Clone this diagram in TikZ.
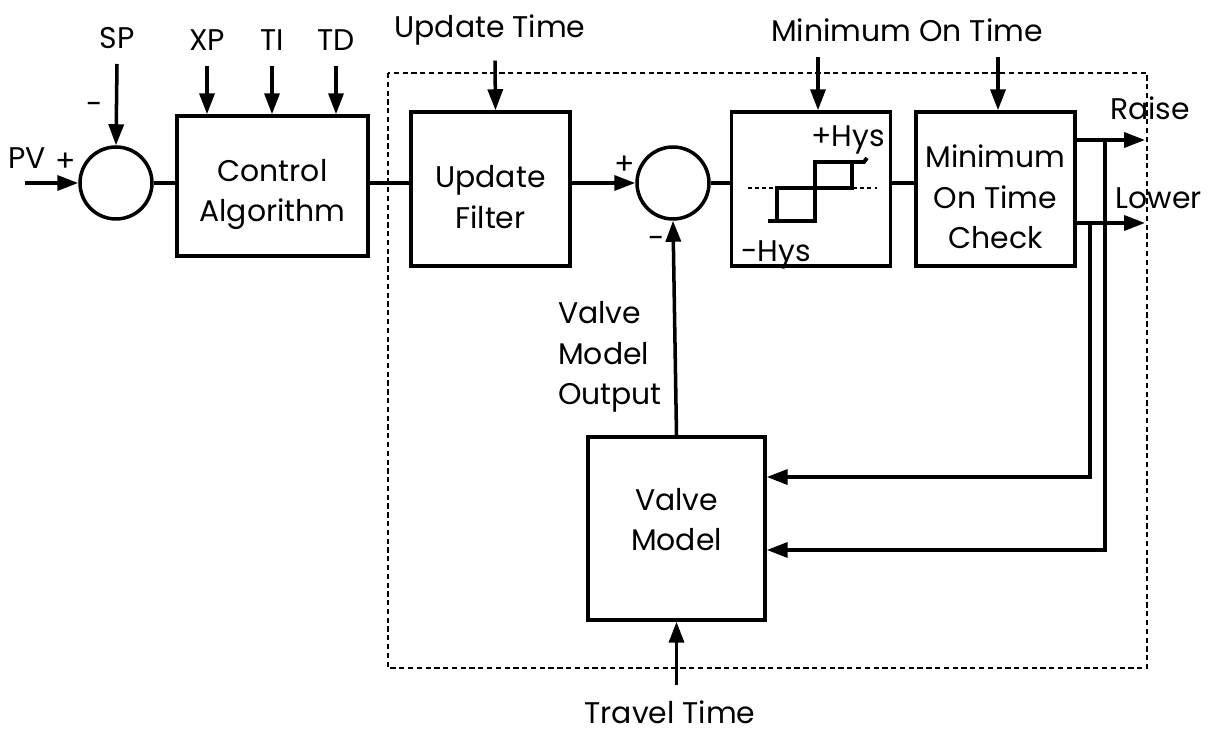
\documentclass[tikz,border=0pt]{standalone}
\usepackage{fontspec}
\setmainfont{Poppins}
\usetikzlibrary{arrows.meta}
\newcommand\topgap{\rule{0pt}{22pt}}
\tikzset{
  block/.style={draw, line width=2pt, minimum width=3.18cm, minimum height=3.08cm, align=center, inner sep=0pt},
  hightext/.style={execute at end node={\rule[-10pt]{0pt}{0pt}}},
  sumnode/.style={draw, circle, line width=2pt, minimum size=1.44cm, inner sep=0pt},
  lbl/.style={inner sep=0pt},
  sig/.style={line width=2pt, -{Triangle[length=0.42cm,width=0.3cm]}},
  wire/.style={line width=2pt}
}
\begin{document}
\begin{tikzpicture}[x=0.02cm, y=-0.02cm, every node/.append style={font=\fontsize{17}{23}\selectfont}]
\useasboundingbox (0,0) rectangle (1211,736);
% dashed frame round the valve part
\draw[line width=1.3pt, dash pattern=on 3pt off 2pt] (388,73) rectangle (1147,668);
% blocks
\node[sumnode] (sum1) at (116,183) {};
\node[block, minimum width=3.82cm, minimum height=2.8cm] (ctrl) at (272.5,186) {\topgap Control\\Algorithm};
\node[block] (filt) at (490.5,189) {\topgap Update\\Filter};
\node[sumnode] (sum2) at (673,183) {};
\node[block] (hys) at (811,189) {};
\node[block] (mot) at (995.5,189) {\topgap Minimum\\On Time\\Check};
\node[block, hightext, minimum width=3.54cm, minimum height=3.66cm] (valve) at (676.5,528.5) {Valve\\Model};
% labels
\node[lbl] (pv) at (27,158) {PV};
\node[lbl] (pvplus) at (66,162) {+};
\node[lbl] (sp) at (117,38) {SP};
\node[lbl] (spminus) at (95,108) {-};
\node[lbl] (xp) at (207,40) {XP};
\node[lbl] (ti) at (272,40) {TI};
\node[lbl] (td) at (336,40) {TD};
\node[lbl] (updt) at (490,30) {Update Time};
\node[lbl] (mint) at (907,30) {Minimum On Time};
\node[lbl] (plus2) at (625,165) {+};
\node[lbl] (minus2) at (657,242) {-};
\node[lbl, align=left] (vmo) at (610,357) {Valve\\Model\\Output};
\node[lbl] (trav) at (670,712) {Travel Time};
\node[lbl] (raiselbl) at (1150,108) {Raise};
\node[lbl] (lowerlbl) at (1159,198) {Lower};
\node[lbl] (hysp) at (848,140) {+Hys};
\node[lbl] (hysm) at (776,255) {-Hys};
\coordinate (pvin) at (25,183);
\coordinate (raise) at (1145,140);
\coordinate (lower) at (1145,223);
\coordinate (tapR) at (1105,140);
\coordinate (tapL) at (1090,223);
% hysteresis curve
\draw[line width=1pt, dash pattern=on 2pt off 2pt] (748,188) -- (877,188);
\draw[line width=2.2pt] (768,221) -- (815,221) -- (815,162) -- (864,162) -- (867,158);
\draw[line width=2.2pt] (777,221) -- (777,188) -- (852,188) -- (852,162);
% signal path
\draw[sig] (pvin) -- (sum1.west);
\draw[sig] (sp.south) ++(0,-0.3cm) -- (sum1.north);
\draw[sig] ([yshift=-0.3cm]xp.south) -- (xp.south |- ctrl.north);
\draw[sig] ([yshift=-0.3cm]ti.south) -- (ti.south |- ctrl.north);
\draw[sig] ([yshift=-0.3cm]td.south) -- (td.south |- ctrl.north);
\draw[wire] (sum1.east) -- (sum1.east -| ctrl.west);
\draw[wire] (ctrl.east |- sum1) -- (filt.west |- sum1);
\draw[sig] ([xshift=0.1cm,yshift=-0.3cm]updt.south) -- ([xshift=0.1cm]filt.north);
\draw[sig] (filt.east |- sum2) -- (sum2.west);
\draw[wire] (sum2.east) -- (hys.west |- sum2);
\draw[wire] (hys.east |- sum2) -- (mot.west |- sum2);
\draw[sig] ([yshift=-0.3cm]mint.south -| hys.north) ++(0.14cm,0) -- ([xshift=0.14cm]hys.north);
\draw[sig] ([yshift=-0.3cm]mint.south -| mot.north) ++(0.05cm,0) -- ([xshift=0.05cm]mot.north);
\draw[sig] (mot.east |- raise) -- (raise);
\draw[sig] (mot.east |- lower) -- (lower);
\draw[sig] (tapR) |- ([yshift=-0.43cm]valve.east);
\draw[sig] (tapL) |- ([yshift=1.03cm]valve.east);
\draw[sig] (valve.north) -- (sum2.south);
\draw[sig] (trav.north -| valve.south) ++(0,0.3cm) -- (valve.south);
\end{tikzpicture}
\end{document}
